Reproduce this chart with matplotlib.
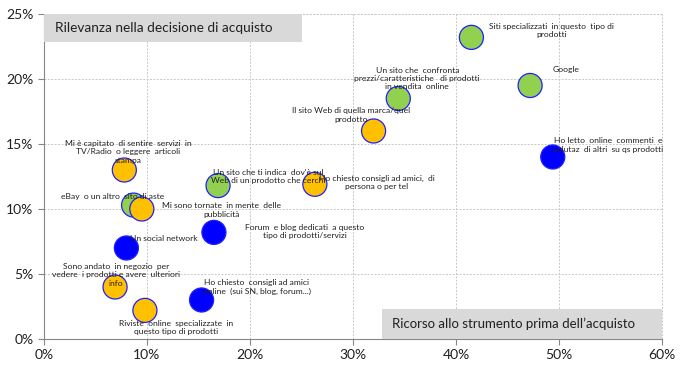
import matplotlib.pyplot as plt
from matplotlib.patches import Rectangle
from matplotlib.ticker import PercentFormatter

plt.rcParams['font.family'] = ['Lato', 'DejaVu Sans']

# Data (percent)
labels = [
    "Siti specializzati  in questo  tipo di\nprodotti",
    "Google",
    "Un sito che  confronta\nprezzi/caratteristiche   di prodotti\nin vendita  online",
    "Il sito Web di quella marca/quel\nprodotto",
    "Ho letto  online  commenti  e\nvalutaz  di altri  su qs prodotti",
    "Mi è capitato  di sentire  servizi  in\nTV/Radio  o leggere  articoli\nstampa",
    "Un sito che ti indica  dov'è sul\nWeb di un prodotto che cerchi",
    "Ho chiesto consigli ad amici,  di\npersona o per tel",
    "eBay  o un altro  sito di aste",
    "Mi sono tornate  in mente  delle\npubblicità",
    "Forum  e blog dedicati  a questo\ntipo di prodotti/servizi",
    "Un social network",
    "Sono andato  in negozio  per\nvedere  i prodotti e avere  ulteriori\ninfo",
    "Ho chiesto  consigli ad amici\nonline  (sui SN, blog, forum...)",
    "Riviste  online  specializzate  in\nquesto tipo di prodotti",
]
ricorso = [41.5, 47.2, 34.4, 32.0, 49.4, 7.8, 16.9, 26.3, 8.7, 9.5, 16.5, 8.0, 6.9, 15.3, 9.8]
rilevanza = [23.2, 19.5, 18.5, 16.0, 14.0, 13.0, 11.8, 11.9, 10.3, 10.0, 8.2, 7.0, 4.0, 3.0, 2.2]
gruppo = ['g', 'g', 'g', 'o', 'b', 'o', 'g', 'o', 'g', 'o', 'b', 'b', 'o', 'b', 'o']

colori = {'g': '#92D050', 'o': '#FFC000', 'b': '#0000FF'}
# label offsets in pixels (dx, dy) from each bubble
offsets = [(80, 7), (36, 16), (19, 20), (-22, 16), (55, 12), (4, 18), (50, 9), (62, 2),
           (-21, 9), (80, -1), (91, 1), (37, 9), (1, 12), (55, 13), (31, -17)]

grid_style = dict(linestyle=(0, (2, 1.5)), color='#C8C8C8', linewidth=0.7)

fig = plt.figure(figsize=(6.81, 3.71), dpi=100)
ax = fig.add_axes([0.0646, 0.0863, 0.9074, 0.8760])

ax.scatter(ricorso, rilevanza, s=300, c=[colori[g] for g in gruppo],
           edgecolors='#2020FF', linewidths=0.9, zorder=3)

for lab, x, y, off in zip(labels, ricorso, rilevanza, offsets):
    ax.annotate(lab, (x, y), xytext=off, textcoords='offset pixels',
                ha='center', va='center', multialignment='center',
                fontsize=6.1, color='#202020', zorder=4)

ax.set_xlim(0, 60)
ax.set_ylim(0, 25)
ax.set_xticks(range(0, 61, 10))
ax.set_yticks(range(0, 26, 5))
ax.xaxis.set_major_formatter(PercentFormatter(decimals=0))
ax.yaxis.set_major_formatter(PercentFormatter(decimals=0))
ax.tick_params(labelsize=10, color='#868686', length=4, labelcolor='#202020')

ax.grid(True, **grid_style)
ax.set_axisbelow(True)
for s in ['top', 'right']:
    ax.spines[s].set_visible(False)
for s in ['left', 'bottom']:
    ax.spines[s].set_color('#868686')
# dashed grid lines at the top and right limits
ax.axhline(25, clip_on=False, **grid_style)
ax.axvline(60, clip_on=False, **grid_style)

# gray title boxes
ax.add_patch(Rectangle((0, 0.914), 0.417, 0.086, transform=ax.transAxes,
                       facecolor='#D9D9D9', edgecolor='none', zorder=5))
ax.text(0.018, 0.957, "Rilevanza nella decisione di acquisto", transform=ax.transAxes,
        fontsize=9.8, va='center', ha='left', color='#202020', zorder=6)
ax.add_patch(Rectangle((0.547, 0), 0.453, 0.092, transform=ax.transAxes,
                       facecolor='#D9D9D9', edgecolor='none', zorder=5))
ax.text(0.563, 0.046, "Ricorso allo strumento prima dell\u2019acquisto", transform=ax.transAxes,
        fontsize=9.5, va='center', ha='left', color='#202020', zorder=6)

fig.savefig('out.png', dpi=100)
